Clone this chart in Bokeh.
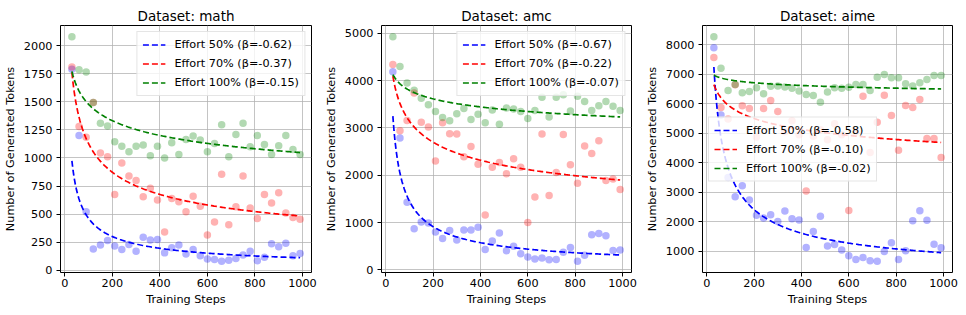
import numpy as np
from bokeh.plotting import figure
from bokeh.layouts import row
from bokeh.models import Legend, LegendItem, FixedTicker, Range1d
from bokeh.embed import file_html
from bokeh.resources import INLINE

# ---------------- data ----------------
steps = [30, 60, 90, 120, 150, 180, 210, 240, 270, 300, 330, 360, 390, 420, 450, 480, 510,
         540, 570, 600, 630, 660, 690, 720, 750, 780, 810, 840, 870, 900, 930, 960, 990]

efforts = ["50%", "70%", "100%"]
colors = ["blue", "red", "green"]

math_50 = [1790, 1200, 520, 190, 225, 265, 215, 185, 230, 170, 295, 270, 275, 155, 200, 225, 145,
           185, 130, 100, 95, 80, 90, 105, 135, 170, 85, 115, 235, 210, 240, 130, 150]
math_70 = [1810, 1280, 1185, 1495, 1045, 1010, 675, 955, 840, 800, 655, 730, 625, 340, 640, 610, 520,
           660, 570, 315, 430, 855, 405, 565, 840, 555, 460, 675, 600, 690, 510, 470, 455]
math_100 = [2080, 1785, 1765, 1495, 1310, 1285, 1145, 1105, 1055, 1105, 1115, 1020, 1105, 1000, 1135, 1030, 1165,
            1195, 1160, 1055, 1130, 1295, 1010, 1210, 1310, 1100, 1200, 1120, 1030, 1110, 1200, 1075, 1030]

amc_50 = [4190, 2790, 1430, 870, 1010, 990, 800, 660, 830, 630, 840, 840, 900, 430, 610, 780, 400,
          500, 340, 270, 230, 250, 210, 220, 370, 470, 180, 310, 740, 770, 720, 410, 420]
amc_70 = [4340, 2940, 3160, 3740, 3120, 3020, 2300, 3110, 2880, 2870, 2390, 2610, 2230, 1160, 2170, 2270, 2030,
          2350, 2170, 1000, 1540, 2870, 1570, 2060, 2860, 2220, 1830, 2620, 2460, 2730, 1890, 1920, 1700]
amc_100 = [4930, 4300, 3950, 3800, 3630, 3490, 3350, 3220, 3150, 3300, 3410, 3180, 3290, 3110, 3380, 3080, 3420,
           3400, 3350, 3200, 3370, 3650, 3230, 3650, 3700, 3360, 3670, 3560, 3370, 3470, 3560, 3460, 3370]

aime_50 = [7900, 5620, 3500, 2850, 3220, 2740, 2220, 2130, 2240, 2010, 2360, 2100, 2060, 1130, 1670, 2190, 1180,
           1230, 1040, 850, 720, 790, 680, 660, 990, 1290, 720, 1020, 2030, 2370, 2050, 1240, 1120]
aime_70 = [7570, 5870, 5480, 6640, 5930, 5840, 4870, 5840, 6110, 5740, 5050, 5420, 4950, 3040, 4900, 5120, 4780,
           5320, 4950, 2380, 5050, 6250, 4350, 5370, 6290, 5600, 4420, 5940, 5870, 6140, 4820, 4820, 4180]
aime_100 = [8270, 7200, 6450, 6650, 6370, 6410, 6540, 6340, 6590, 6600, 6570, 6520, 6430, 6310, 6280, 6050, 6400,
            6540, 6520, 6560, 6650, 6650, 6450, 6900, 6990, 6880, 6880, 6680, 6600, 6710, 6820, 6960, 6960]

# fitted power-law trends  tokens = A * step ** beta  (beta as printed in the legends)
math_fit_A = [8030, 6200, 2950]
math_fit_beta = [-0.62, -0.37, -0.15]
amc_fit_A = [31750, 8660, 5240]
amc_fit_beta = [-0.67, -0.22, -0.07]
aime_fit_A = [52100, 9340, 7460]
aime_fit_beta = [-0.58, -0.10, -0.02]

math_yticks = [0, 250, 500, 750, 1000, 1250, 1500, 1750, 2000]
amc_yticks = [0, 1000, 2000, 3000, 4000, 5000]
aime_yticks = [1000, 2000, 3000, 4000, 5000, 6000, 7000, 8000]
xticks = [0, 200, 400, 600, 800, 1000]

FONT = "DejaVu Sans"
FS = "11.25px"


def make_panel(name, series, fit_A, fit_beta, yrange, yticks, legend_loc,
               width, border_right):
    p = figure(width=width, height=315, output_backend="svg", toolbar_location=None,
               x_range=Range1d(-18, 1038), y_range=Range1d(*yrange),
               min_border_left=60, min_border_right=border_right,
               min_border_top=25, min_border_bottom=43)
    p.title.text = "Dataset: " + name
    p.title.align = "center"
    p.title.text_font = FONT
    p.title.text_font_size = "13.5px"
    p.title.text_font_style = "normal"
    p.title.text_color = "black"
    p.title.standoff = 4

    p.outline_line_color = "black"
    p.outline_line_width = 1
    p.outline_line_alpha = 1

    for ax in (p.xaxis[0], p.yaxis[0]):
        ax.axis_line_color = None
        ax.major_tick_out = 4
        ax.major_tick_in = 0
        ax.minor_tick_out = 0
        ax.minor_tick_in = 0
        ax.major_tick_line_color = "black"
        ax.major_label_text_font = FONT
        ax.major_label_text_font_size = FS
        ax.major_label_text_color = "black"
        ax.axis_label_text_font = FONT
        ax.axis_label_text_font_size = FS
        ax.axis_label_text_font_style = "normal"
        ax.axis_label_text_color = "black"
    p.xaxis.major_label_standoff = 2
    p.xaxis.axis_label_standoff = 3
    p.yaxis.major_label_standoff = 4
    p.yaxis.axis_label_standoff = 4
    p.xaxis.ticker = FixedTicker(ticks=xticks)
    p.yaxis.ticker = FixedTicker(ticks=yticks)
    p.xaxis.axis_label = "Training Steps"
    p.yaxis.axis_label = "Number of Generated Tokens"

    p.grid.grid_line_color = "#b0b0b0"
    p.grid.grid_line_alpha = 0.75
    p.grid.grid_line_width = 1
    p.xgrid.ticker = FixedTicker(ticks=xticks)
    p.ygrid.ticker = FixedTicker(ticks=yticks)

    xs_fit = np.linspace(steps[0], steps[-1], 200)
    items = []
    for vals, col in zip(series, colors):
        p.scatter(steps, vals, size=7.5, fill_color=col, fill_alpha=0.3, line_color=None)
    for col, eff, A, b in zip(colors, efforts, fit_A, fit_beta):
        r = p.line(xs_fit, A * xs_fit ** b, line_color=col, line_width=1.7, line_dash="6 3")
        items.append(LegendItem(label=f"Effort {eff} (β={b:.2f})", renderers=[r]))

    leg = Legend(items=items, location=legend_loc)
    leg.label_text_font = FONT
    leg.label_text_font_size = FS
    leg.label_text_color = "black"
    leg.label_height = 15
    leg.glyph_height = 15
    leg.glyph_width = 23
    leg.label_standoff = 9
    leg.spacing = 4
    leg.padding = 5
    leg.margin = 6
    leg.border_line_color = "#cccccc"
    leg.border_line_width = 1
    leg.background_fill_alpha = 0.8
    p.add_layout(leg)
    return p


p1 = make_panel("math", [math_50, math_70, math_100], math_fit_A, math_fit_beta,
                (-20, 2180), math_yticks, "top_right", 321, 10)
p2 = make_panel("amc", [amc_50, amc_70, amc_100], amc_fit_A, amc_fit_beta,
                (-57.5, 5167.5), amc_yticks, "top_right", 321, 11)
p3 = make_panel("aime", [aime_50, aime_70, aime_100], aime_fit_A, aime_fit_beta,
                (279.5, 8650.5), aime_yticks, "left", 324, 14)

layout = row(p1, p2, p3, spacing=0)
open("out.html", "w").write(file_html(layout, INLINE))
